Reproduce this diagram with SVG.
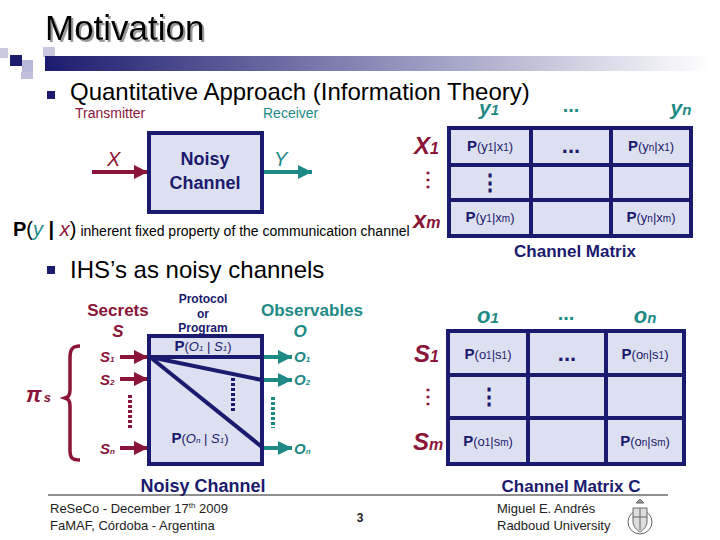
<svg xmlns="http://www.w3.org/2000/svg" width="720" height="540" viewBox="0 0 720 540">
<defs>
<linearGradient id="bar" x1="0" y1="0" x2="1" y2="0">
<stop offset="0" stop-color="#1c1c6e"/>
<stop offset="0.5" stop-color="#8c8cb8"/>
<stop offset="1" stop-color="#ffffff"/>
</linearGradient>
<filter id="shadow" x="-5%" y="-20%" width="115%" height="150%">
<feDropShadow dx="2" dy="2" stdDeviation="0.3" flood-color="#999999" flood-opacity="1"/>
</filter>
<marker id="ar" markerUnits="userSpaceOnUse" markerWidth="16" markerHeight="14" refX="14" refY="7" orient="auto"><path d="M0,0 L14,7 L0,14 Z" fill="#8b1538"/></marker>
<marker id="at" markerUnits="userSpaceOnUse" markerWidth="16" markerHeight="14" refX="14" refY="7" orient="auto"><path d="M0,0 L14,7 L0,14 Z" fill="#1e8a86"/></marker>
</defs>
<style>
text{font-family:"Liberation Sans",Arial,sans-serif;}
.red{fill:#8b1538;}
.teal{fill:#1e8a86;}
.navy{fill:#1a1a6e;}
.bi{font-weight:bold;font-style:italic;}
.b{font-weight:bold;}
.box{fill:#dde0f0;stroke:#1a1a6e;stroke-width:4;}
.grid{stroke:#1a1a6e;stroke-width:4;fill:none;}
.cell{font-size:13px;fill:#1a1a6e;}
.cell .P{font-weight:bold;font-size:15px;}
.sub{font-size:10px;}
.lr{stroke:#8b1538;stroke-width:4;fill:none;}
.lt{stroke:#1e8a86;stroke-width:4;fill:none;}
.ln{stroke:#1a1a6e;stroke-width:4;fill:none;}
.dot{stroke-dasharray:3 2;}
.foot{font-size:13px;fill:#222;}
</style>

<g id="header">
<rect x="0" y="48" width="8" height="10" fill="#c8c8e0"/>
<rect x="10" y="55" width="12" height="11" fill="#1c1c6e"/>
<rect x="22" y="60" width="11" height="12" fill="#b8b8d8"/>
<rect x="43" y="47" width="12" height="10" fill="#c8c8e0"/>
<rect x="21" y="72" width="12" height="7" fill="#c0c0dc"/>
<rect x="45" y="56" width="665" height="15" fill="url(#bar)"/>
<text x="45" y="40" font-size="35" fill="#000" filter="url(#shadow)">Motivation</text>
<rect x="47" y="91" width="8" height="8" fill="#1c1c6e"/>
<text x="70" y="100" font-size="24" fill="#000">Quantitative Approach (Information Theory)</text>
<text x="75" y="118" font-size="14" class="red">Transmitter</text>
<text x="263" y="118" font-size="14" class="teal">Receiver</text>
</g>

<g id="connectors">
<line x1="92" y1="172" x2="148" y2="172" class="lr" marker-end="url(#ar)"/>
<line x1="263" y1="172" x2="312" y2="172" class="lt" marker-end="url(#at)"/>
<line x1="120" y1="357" x2="148" y2="357" class="lr" marker-end="url(#ar)"/>
<line x1="120" y1="379" x2="148" y2="379" class="lr" marker-end="url(#ar)"/>
<line x1="120" y1="448" x2="148" y2="448" class="lr" marker-end="url(#ar)"/>
<line x1="263" y1="357" x2="292" y2="357" class="lt" marker-end="url(#at)"/>
<line x1="263" y1="380" x2="292" y2="380" class="lt" marker-end="url(#at)"/>
<line x1="263" y1="448" x2="292" y2="448" class="lt" marker-end="url(#at)"/>
<line x1="130" y1="395" x2="130" y2="428" class="lr dot"/>
<line x1="273" y1="397" x2="273" y2="428" class="lt dot"/>
</g>

<g id="noisy-channel-1">
<rect x="149" y="133" width="113" height="79" class="box"/>
<text x="205" y="165" text-anchor="middle" font-size="18" class="navy b">Noisy</text>
<text x="205" y="189" text-anchor="middle" font-size="18" class="navy b">Channel</text>
<text x="107" y="166" font-size="20" class="red" font-style="italic">X</text>
<text x="274" y="166" font-size="20" class="teal" font-style="italic">Y</text>
</g>

<g id="pyx">
<text x="13" y="236" font-size="20"><tspan font-weight="bold">P</tspan>(<tspan class="teal" font-style="italic">y</tspan> <tspan font-weight="bold">|</tspan> <tspan class="red" font-style="italic">x</tspan>)<tspan font-size="14" dx="4">inherent fixed property of the communication channel</tspan></text>
</g>

<g id="matrix-1">
<rect x="449" y="128" width="242" height="108" fill="#dde0f0"/>
<path d="M449,128 H691 V236 H449 Z M531,128 V236 M611,128 V236 M449,165 H691 M449,200 H691" class="grid"/>
<text x="489" y="115" text-anchor="middle" font-size="21" class="teal bi">y<tspan font-size="15">1</tspan></text>
<text x="571" y="112" text-anchor="middle" font-size="20" class="teal b">...</text>
<text x="681" y="115" text-anchor="middle" font-size="21" class="teal bi">y<tspan font-size="15">n</tspan></text>
<text x="414" y="154" font-size="24" class="red bi">X<tspan font-size="16">1</tspan></text>
<text x="428" y="186" text-anchor="middle" font-size="20" class="red b">⋮</text>
<text x="413" y="228" font-size="24" class="red bi">x<tspan font-size="16">m</tspan></text>
<text x="490" y="151" text-anchor="middle" class="cell"><tspan class="P">P</tspan>(y<tspan class="sub">1</tspan>|x<tspan class="sub">1</tspan>)</text>
<text x="571" y="153" text-anchor="middle" font-size="22" class="navy b">...</text>
<text x="651" y="151" text-anchor="middle" class="cell"><tspan class="P">P</tspan>(y<tspan class="sub">n</tspan>|x<tspan class="sub">1</tspan>)</text>
<text x="490" y="190" text-anchor="middle" font-size="22" class="navy b">⋮</text>
<text x="490" y="222" text-anchor="middle" class="cell"><tspan class="P">P</tspan>(y<tspan class="sub">1</tspan>|x<tspan class="sub">m</tspan>)</text>
<text x="651" y="222" text-anchor="middle" class="cell"><tspan class="P">P</tspan>(y<tspan class="sub">n</tspan>|x<tspan class="sub">m</tspan>)</text>
<text x="575" y="257" text-anchor="middle" font-size="17" class="navy b">Channel Matrix</text>
</g>

<g id="bullet-2">
<rect x="47" y="266" width="8" height="8" fill="#1c1c6e"/>
<text x="70" y="278" font-size="24" fill="#000">IHS’s as noisy channels</text>
</g>

<g id="noisy-channel-2">
<text x="118" y="316" text-anchor="middle" font-size="17" class="red b">Secrets</text>
<text x="118" y="337" text-anchor="middle" font-size="17" class="red bi">S</text>
<text x="203" y="303" text-anchor="middle" font-size="12" class="navy b">Protocol</text>
<text x="203" y="318" text-anchor="middle" font-size="12" class="navy b">or</text>
<text x="203" y="332" text-anchor="middle" font-size="12" class="navy b">Program</text>
<text x="312" y="316" text-anchor="middle" font-size="17" class="teal b">Observables</text>
<text x="300" y="337" text-anchor="middle" font-size="17" class="teal bi">O</text>
<rect x="149" y="336" width="113" height="128" class="box"/>
<line x1="149" y1="357" x2="262" y2="357" class="ln"/>
<line x1="150" y1="357" x2="262" y2="380" class="ln"/>
<line x1="150" y1="357" x2="262" y2="447" class="ln"/>
<line x1="233" y1="378" x2="233" y2="412" class="ln dot"/>
<text x="203" y="351" text-anchor="middle" font-size="13" class="navy"><tspan font-weight="bold" font-size="15">P</tspan>(<tspan font-style="italic">O<tspan font-size="8">1</tspan></tspan> | <tspan font-style="italic">S<tspan font-size="8">1</tspan></tspan>)</text>
<text x="200" y="443" text-anchor="middle" font-size="13" class="navy"><tspan font-weight="bold" font-size="15">P</tspan>(<tspan font-style="italic">O<tspan font-size="8">n</tspan></tspan> | <tspan font-style="italic">S<tspan font-size="8">1</tspan></tspan>)</text>
<text x="100" y="362" font-size="15" class="red bi">S<tspan font-size="8">1</tspan></text>
<text x="100" y="385" font-size="15" class="red bi">S<tspan font-size="8">2</tspan></text>
<text x="100" y="454" font-size="15" class="red bi">S<tspan font-size="8">n</tspan></text>
<text x="294" y="362" font-size="15" class="teal bi">O<tspan font-size="8">1</tspan></text>
<text x="294" y="385" font-size="15" class="teal bi">O<tspan font-size="8">2</tspan></text>
<text x="294" y="454" font-size="15" class="teal bi">O<tspan font-size="8">n</tspan></text>
<path d="M80,346 C72,346 70,350 70,358 L70,390 C70,396 68,397 65,398 C68,399 70,400 70,406 L70,450 C70,458 72,460 80,460" fill="none" stroke="#8b1538" stroke-width="3.5"/>
<text x="26" y="402" font-size="22" class="red bi">π<tspan font-size="13" dx="2">s</tspan></text>
<text x="203" y="492" text-anchor="middle" font-size="18" class="navy b">Noisy Channel</text>
</g>

<g id="matrix-2">
<rect x="448" y="331" width="236" height="133" fill="#dde0f0"/>
<path d="M448,331 H684 V464 H448 Z M528,331 V464 M606,331 V464 M448,375 H684 M448,418 H684" class="grid"/>
<text x="488" y="323" text-anchor="middle" font-size="22" class="teal bi">o<tspan font-size="15">1</tspan></text>
<text x="566" y="320" text-anchor="middle" font-size="20" class="teal b">...</text>
<text x="645" y="323" text-anchor="middle" font-size="22" class="teal bi">o<tspan font-size="15">n</tspan></text>
<text x="414" y="362" font-size="24" class="red bi">S<tspan font-size="16">1</tspan></text>
<text x="428" y="403" text-anchor="middle" font-size="20" class="red b">⋮</text>
<text x="413" y="450" font-size="24" class="red bi">S<tspan font-size="16">m</tspan></text>
<text x="488" y="359" text-anchor="middle" class="cell"><tspan class="P">P</tspan>(o<tspan class="sub">1</tspan>|s<tspan class="sub">1</tspan>)</text>
<text x="567" y="361" text-anchor="middle" font-size="22" class="navy b">...</text>
<text x="645" y="359" text-anchor="middle" class="cell"><tspan class="P">P</tspan>(o<tspan class="sub">n</tspan>|s<tspan class="sub">1</tspan>)</text>
<text x="489" y="404" text-anchor="middle" font-size="22" class="navy b">⋮</text>
<text x="488" y="446" text-anchor="middle" class="cell"><tspan class="P">P</tspan>(o<tspan class="sub">1</tspan>|s<tspan class="sub">m</tspan>)</text>
<text x="645" y="446" text-anchor="middle" class="cell"><tspan class="P">P</tspan>(o<tspan class="sub">n</tspan>|s<tspan class="sub">m</tspan>)</text>
<text x="571" y="492" text-anchor="middle" font-size="17" class="navy b">Channel Matrix C</text>
</g>

<g id="footer">
<line x1="48" y1="495" x2="668" y2="495" stroke="#222" stroke-width="1"/>
<text x="50" y="513" class="foot">ReSeCo - December 17<tspan font-size="8" dy="-5">th</tspan><tspan dy="5"> 2009</tspan></text>
<text x="50" y="530" class="foot">FaMAF, Córdoba - Argentina</text>
<text x="360" y="522" font-size="12" font-weight="bold" fill="#222" text-anchor="middle">3</text>
<text x="497" y="513" class="foot">Miguel E. Andrés</text>
<text x="497" y="530" class="foot">Radboud University</text>
<g id="logo" fill="none" stroke="#666" stroke-width="1">
<circle cx="640" cy="522" r="12"/>
<path d="M633,508 H647 V522 C647,528 640,532 640,532 C640,532 633,528 633,522 Z" fill="#ddd"/>
<path d="M640,508 V530 M633,517 H647"/>
<path d="M636,503 L640,499 L644,503 Z" fill="#999"/>
</g>
</g>
</svg>
